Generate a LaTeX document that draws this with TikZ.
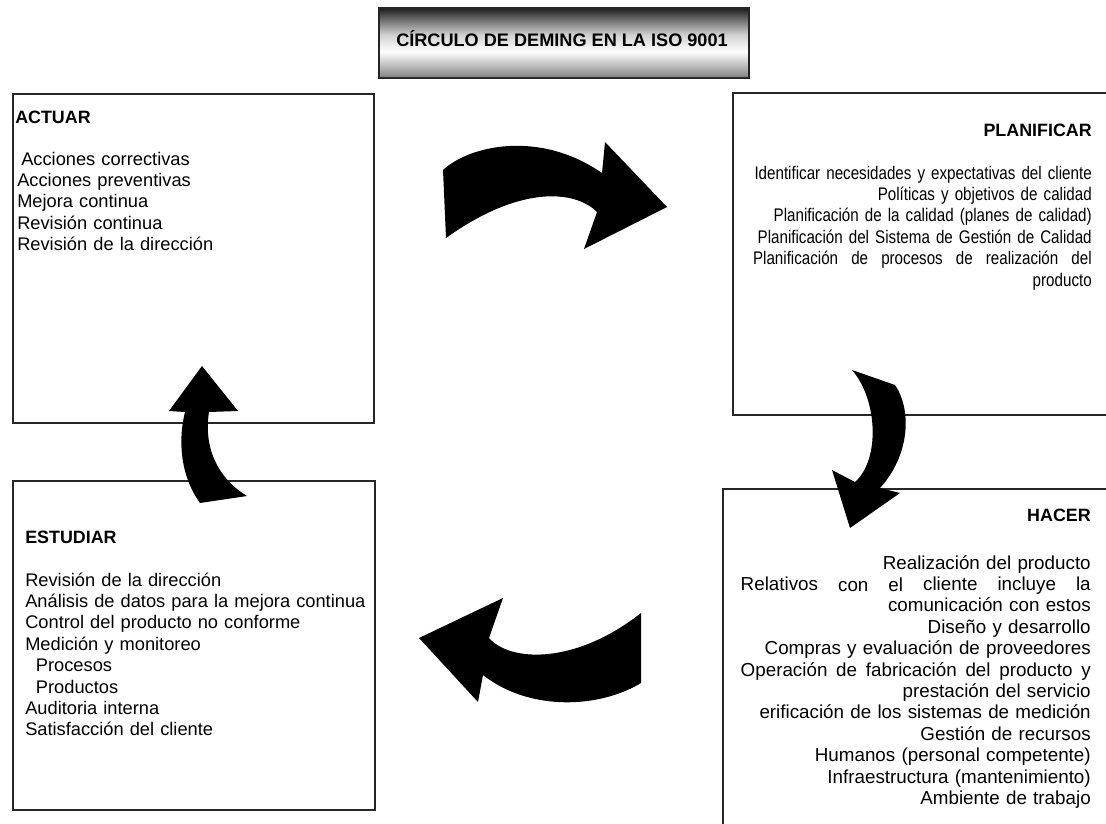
\documentclass[tikz,border=0pt]{standalone}
\usepackage{fontspec}
\setmainfont{Liberation Sans}
\newfontfamily\condfont[FakeStretch=0.83]{Liberation Sans}
\usetikzlibrary{positioning}
\pgfdeclareverticalshading{titleshade}{100bp}{color(0bp)=(black!50); color(25bp)=(black!50); color(44bp)=(white); color(56bp)=(black!18); color(65bp)=(black!50); color(75bp)=(black!88); color(100bp)=(black!88)}
\tikzset{
  box/.style={draw=black!85, line width=1.4pt, anchor=north west, inner sep=0pt},
  head/.style={font=\bfseries\fontsize{13.4}{16}\selectfont, inner sep=0pt},
  items/.style={font=\fontsize{13.7}{16.05}\selectfont, inner sep=0pt}
}
\begin{document}
\begin{tikzpicture}[x=0.75pt,y=-0.75pt]
\clip (0,0) rectangle (1106,824);
\node[box, shade, shading=titleshade, line width=1.8pt, minimum width=277.5pt, minimum height=52.5pt] (title) at (378,7) {};
\node[head, font=\bfseries\fontsize{13.6}{16}\selectfont, anchor=base] (titletext) at (562,46.5) {CÍRCULO DE DEMING EN LA ISO 9001};
\node[box, minimum width=270.75pt, minimum height=246.75pt] (actuar) at (12,93) {};
\node[box, minimum width=287.25pt, minimum height=241.5pt] (planificar) at (732,92) {};
\node[box, minimum width=294.75pt, minimum height=264pt] (hacer) at (722,488) {};
\node[box, minimum width=271.5pt, minimum height=246.75pt] (estudiar) at (12,480) {};

\node[head, anchor=base west] (actuarhead) at (15,123.5) {ACTUAR};
\node[items, anchor=base west, text width=250pt, align=left] (actuarlist) at (17,165) {\hspace*{3pt}Acciones correctivas\\
Acciones preventivas\\
Mejora continua\\
Revisión continua\\
Revisión de la dirección};

\node[head, anchor=base east] (planhead) at (1092,136.5) {PLANIFICAR};
\node[items, font=\condfont\fontsize{13.7}{16.05}\selectfont, anchor=base east, text width=275pt, align=right] (planlist) at (1092,179) {Identificar necesidades y expectativas del cliente\\
Políticas y objetivos de calidad\\
Planificación de la calidad (planes de calidad)\\
Planificación del Sistema de Gestión de Calidad\\
\makebox[254pt][s]{Planificación\hfill de\hfill procesos\hfill de\hfill realización\hfill del}\\
producto\hspace*{7pt}};

\node[head, anchor=base east] (hacerhead) at (1091,521.5) {HACER};
\node[items, font=\fontsize{14.1}{16.05}\selectfont, anchor=base east, text width=262.5pt, align=right] (hacerlist) at (1091,569) {Realización del producto\\
\makebox[\linewidth][s]{Relativos\hfill\raisebox{-1pt}{con}\hfill\raisebox{-1pt}{el}\hfill cliente\hfill incluye\hfill la}\\
comunicación con estos\hspace*{4pt}\\
Diseño y desarrollo\\
Compras y evaluación de proveedores\\
\makebox[\linewidth][s]{Operación\hfill de\hfill fabricación\hfill del\hfill producto\hfill y}\\
prestación del servicio\\
erificación de los sistemas de medición\\
Gestión de recursos\\
Humanos (personal competente)\\
Infraestructura (mantenimiento)\\
Ambiente de trabajo};

\node[head, anchor=base west] (estudiarhead) at (25,543.5) {ESTUDIAR};
\node[items, anchor=base west, text width=260pt, align=left] (estudiarlist) at (25,586) {Revisión de la dirección\\
Análisis de datos para la mejora continua\\
Control del producto no conforme\\
Medición y monitoreo\\
\hspace*{8pt}Procesos\\
\hspace*{8pt}Productos\\
Auditoria interna\\
Satisfacción del cliente};

\fill (443,170) .. controls (470,145) and (540,130) .. (602,173) -- (605,142) -- (667,207) -- (584,249) -- (597,212) .. controls (575,190) and (520,185) .. (446,238) -- cycle;
\fill (852,370) -- (895,385) .. controls (912,410) and (910,455) .. (880,488) -- (900,493) -- (850,528) -- (832,470) -- (855,482) .. controls (880,460) and (878,400) .. (852,370) -- cycle;
\fill (641,613) -- (641,683) .. controls (600,708) and (530,712) .. (483,675) -- (478,702) -- (419,638) -- (503,598) -- (489,638) .. controls (510,662) and (575,665) .. (641,613) -- cycle;
\fill (202,366) -- (238,411) -- (209,412) .. controls (203,450) and (220,480) .. (247,496) -- (200,503) .. controls (180,475) and (178,440) .. (185,412) -- (169,411) -- cycle;
\end{tikzpicture}
\end{document}
